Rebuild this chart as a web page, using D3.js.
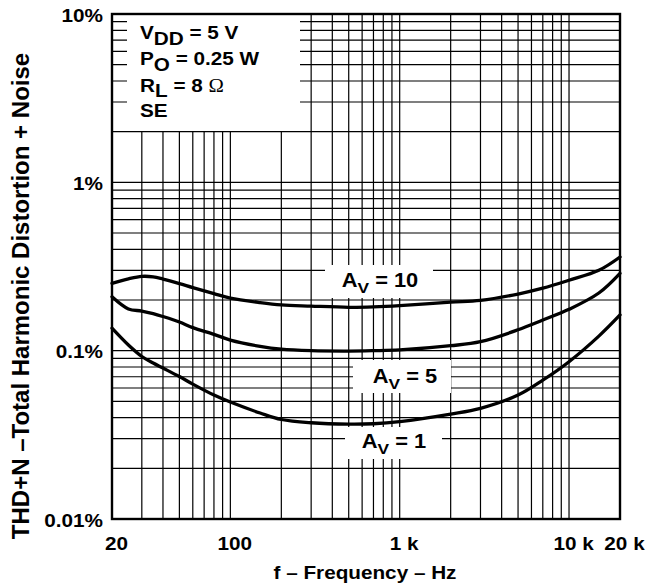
<!DOCTYPE html>
<html><head><meta charset="utf-8">
<script src="https://cdn.jsdelivr.net/npm/d3@7"></script>
<style>
body{margin:0;background:#fff}
svg{display:block}
text{font-family:"Liberation Sans",Arial,Helvetica,sans-serif;font-weight:bold;fill:#000}
</style>
</head><body>
<svg id="chart" width="653" height="586"></svg>
<script>
// ---- data (frequency in Hz, THD+N in %) ----
const freqs = [20, 25, 30, 35, 40, 50, 60, 80, 100, 150, 200, 300, 500, 700, 1000, 2000, 3000, 5000, 7000, 10000, 15000, 20000];
const av10  = [0.251, 0.267, 0.2764, 0.2745, 0.2663, 0.2504, 0.237, 0.2184, 0.2053, 0.193, 0.187, 0.184, 0.181, 0.182, 0.185, 0.194, 0.199, 0.217, 0.235, 0.262, 0.300, 0.360];
const av5   = [0.209, 0.177, 0.172, 0.166, 0.1595, 0.148, 0.137, 0.125, 0.1156, 0.106, 0.102, 0.100, 0.0995, 0.100, 0.101, 0.107, 0.113, 0.133, 0.152, 0.176, 0.220, 0.288];
const av1   = [0.136, 0.108, 0.0923, 0.0844, 0.0788, 0.0702, 0.0633, 0.0545, 0.0495, 0.0426, 0.039, 0.0373, 0.0366, 0.0368, 0.0379, 0.042, 0.0454, 0.0545, 0.0668, 0.086, 0.122, 0.163];
const seriesGains = ["10", "5", "1"];
const xTickValues = [20, 100, 1000, 10000, 20000];
const xTickLabels = ["20", "100", "1 k", "10 k", "20 k"];
const yTickValues = [0.01, 0.1, 1, 10];
const yTickLabels = ["0.01%", "0.1%", "1%", "10%"];
const xTitle = "f \u2013 Frequency \u2013 Hz";
const yTitle = "THD+N \u2013Total Harmonic Distortion + Noise";

// ---- layout ----
const L = 112, R = 620, T = 14, B = 519;
const svg = d3.select("#chart");
const x = d3.scaleLog().domain([20, 20000]).range([L, R]);
const y = d3.scaleLog().domain([0.01, 10]).range([B, T]);
const SX = 1.12; // horizontal text stretch
const FS = 18.5;

// grid
const grid = svg.append("g").attr("stroke", "#000").attr("stroke-width", 1.2);
x.ticks().filter(v => v > 20 && v < 20000).forEach(v => {
  grid.append("line").attr("x1", x(v)).attr("x2", x(v)).attr("y1", T).attr("y2", B);
});
y.ticks().filter(v => v > 0.01 && v < 10).forEach(v => {
  grid.append("line").attr("x1", L).attr("x2", R).attr("y1", y(v)).attr("y2", y(v));
});

// white boxes hiding grid behind annotations
const boxes = [
  [127, T + 1, 173, 116],
  [325, 265, 108, 33],
  [353, 360, 98, 33],
  [345, 427, 97, 32]
];
svg.append("g").selectAll("rect").data(boxes).join("rect")
  .attr("x", d => d[0]).attr("y", d => d[1]).attr("width", d => d[2]).attr("height", d => d[3])
  .attr("fill", "#fff");

// border
svg.append("rect").attr("x", L).attr("y", T).attr("width", R - L).attr("height", B - T)
  .attr("fill", "none").attr("stroke", "#000").attr("stroke-width", 2.4);

// curves
const line = d3.line().x(d => x(d[0])).y(d => y(d[1])).curve(d3.curveCatmullRom.alpha(0.5));
[av10, av5, av1].forEach(s => {
  svg.append("path").datum(freqs.map((f, i) => [f, s[i]]))
    .attr("d", line).attr("fill", "none").attr("stroke", "#000")
    .attr("stroke-width", 3.3).attr("stroke-linejoin", "round").attr("stroke-linecap", "round");
});

// helper: stretched text
function stext(px, py, anchor, size) {
  const g = svg.append("g").attr("transform", `translate(${px},${py}) scale(${SX},1)`);
  return g.append("text").attr("text-anchor", anchor).attr("font-size", size || FS);
}

// axes (tick labels via d3 axes)
const xAxis = d3.axisBottom(x).tickValues(xTickValues).tickSize(0)
  .tickFormat((d, i) => xTickLabels[i]);
const gx = svg.append("g").attr("transform", `translate(0,${B})`).call(xAxis);
gx.select(".domain").remove();
gx.selectAll("text").remove();
gx.selectAll(".tick").each(function(d, i) {
  d3.select(this).append("g").attr("transform", `translate(4,31) scale(${SX},1)`)
    .append("text").attr("text-anchor", "middle").attr("font-size", FS).text(xTickLabels[i]);
});

const yAxis = d3.axisLeft(y).tickValues(yTickValues).tickSize(0)
  .tickFormat((d, i) => yTickLabels[i]);
const gy = svg.append("g").attr("transform", `translate(${L},0)`).call(yAxis);
gy.select(".domain").remove();
gy.selectAll("text").remove();
gy.selectAll(".tick").each(function(d, i) {
  d3.select(this).append("g").attr("transform", `translate(-9,7) scale(${SX},1)`)
    .append("text").attr("text-anchor", "end").attr("font-size", FS).text(yTickLabels[i]);
});

// axis titles
stext(365, 579, "middle").text(xTitle);
svg.append("text").attr("transform", "translate(29,296) rotate(-90)")
  .attr("text-anchor", "middle").attr("font-size", 24).text(yTitle);

// legend box text
function legendLine(py, main, sub, rest, omega) {
  const t = stext(140, py, "start");
  t.append("tspan").text(main);
  t.append("tspan").attr("dy", 5.5).text(sub);
  t.append("tspan").attr("dy", -5.5).text(rest);
  if (omega) t.append("tspan").style("font-family", '"Liberation Serif","Times New Roman",serif')
    .style("font-weight", "normal").text(omega);
}
legendLine(39, "V", "DD", " = 5 V");
legendLine(65, "P", "O", " = 0.25 W");
legendLine(91.5, "R", "L", " = 8 ", "\u03A9");
stext(140, 117, "start").text("SE");

// gain labels
const gainPos = [[380, 287], [405, 383], [394, 448]];
seriesGains.forEach((g, i) => {
  const t = stext(gainPos[i][0], gainPos[i][1], "middle", 19.5);
  t.append("tspan").text("A");
  t.append("tspan").attr("dy", 6).attr("font-size", 15.5).text("V");
  t.append("tspan").attr("dy", -6).text(" = " + g);
});
</script>
</body></html>
